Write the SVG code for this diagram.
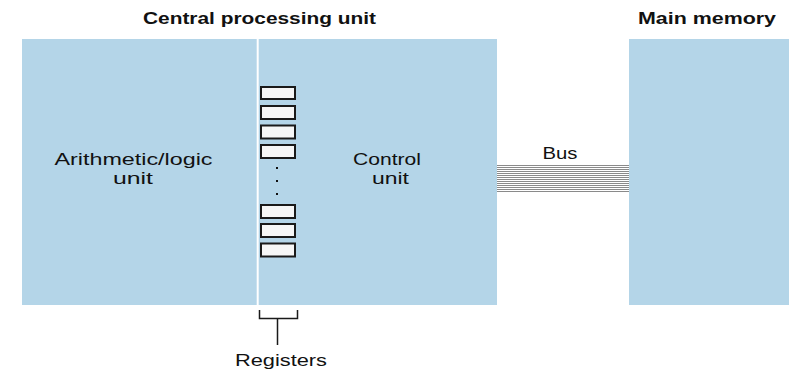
<svg xmlns="http://www.w3.org/2000/svg" width="789" height="369" viewBox="0 0 789 369">
<style>
.box{fill:#b4d5e8}
.reg{fill:#f6f6f6;stroke:#1a1a1a;stroke-width:2}
.t{font-family:"Liberation Sans",Arial,sans-serif;font-size:17px;fill:#111;text-anchor:middle}
.b{font-weight:bold;font-size:16px}
.bus{stroke:#8a8a8a;stroke-width:1}
.ln{stroke:#1a1a1a;stroke-width:1.5;fill:none}
</style>
<rect width="789" height="369" fill="#fff"/>
<g id="cpu">
<rect class="box" x="22" y="39" width="475" height="266"/>
<line x1="257.7" y1="39" x2="257.7" y2="305" stroke="#fff" stroke-width="2"/>
<text class="t b" x="259.5" y="24" textLength="233" lengthAdjust="spacingAndGlyphs">Central processing unit</text>
</g>
<g id="alu">
<text class="t" x="133.5" y="164.5" textLength="158" lengthAdjust="spacingAndGlyphs">Arithmetic/logic</text>
<text class="t" x="133" y="183.5" textLength="40" lengthAdjust="spacingAndGlyphs">unit</text>
</g>
<g id="control">
<text class="t" x="387" y="165" textLength="68" lengthAdjust="spacingAndGlyphs">Control</text>
<text class="t" x="390.5" y="183.5" textLength="37" lengthAdjust="spacingAndGlyphs">unit</text>
</g>
<g id="registers">
<rect class="reg" x="261" y="87" width="34" height="12"/>
<rect class="reg" x="261" y="106" width="34" height="13"/>
<rect class="reg" x="261" y="125.5" width="34" height="13"/>
<rect class="reg" x="261" y="145" width="34" height="13"/>
<rect x="276" y="167" width="2" height="2" fill="#111"/>
<rect x="276" y="180" width="2" height="2" fill="#111"/>
<rect x="276" y="193" width="2" height="2" fill="#111"/>
<rect class="reg" x="261" y="205" width="34" height="13"/>
<rect class="reg" x="261" y="224" width="34" height="13"/>
<rect class="reg" x="261" y="243.5" width="34" height="13"/>
<text class="t" x="281" y="366" textLength="92" lengthAdjust="spacingAndGlyphs">Registers</text>
</g>
<g id="memory">
<rect class="box" x="629" y="39" width="160" height="266"/>
<text class="t b" x="707" y="24" textLength="138" lengthAdjust="spacingAndGlyphs">Main memory</text>
</g>
<g id="connectors">
<path class="ln" d="M259.5 310 V318.5 H297.5 V310 M277.5 318.5 V345"/>
<g id="bus">
<line class="bus" x1="497" y1="165.5" x2="629" y2="165.5"/>
<line class="bus" x1="497" y1="167.5" x2="629" y2="167.5"/>
<line class="bus" x1="497" y1="169.5" x2="629" y2="169.5"/>
<line class="bus" x1="497" y1="171.5" x2="629" y2="171.5"/>
<line class="bus" x1="497" y1="173.5" x2="629" y2="173.5"/>
<line class="bus" x1="497" y1="175.5" x2="629" y2="175.5"/>
<line class="bus" x1="497" y1="177.5" x2="629" y2="177.5"/>
<line class="bus" x1="497" y1="179.5" x2="629" y2="179.5"/>
<line class="bus" x1="497" y1="181.5" x2="629" y2="181.5"/>
<line class="bus" x1="497" y1="183.5" x2="629" y2="183.5"/>
<line class="bus" x1="497" y1="185.5" x2="629" y2="185.5"/>
<line class="bus" x1="497" y1="187.5" x2="629" y2="187.5"/>
<line class="bus" x1="497" y1="189.5" x2="629" y2="189.5"/>
<line class="bus" x1="497" y1="191.5" x2="629" y2="191.5"/>
<text class="t" x="560" y="159" textLength="35" lengthAdjust="spacingAndGlyphs">Bus</text>
</g>
</g>
</svg>
